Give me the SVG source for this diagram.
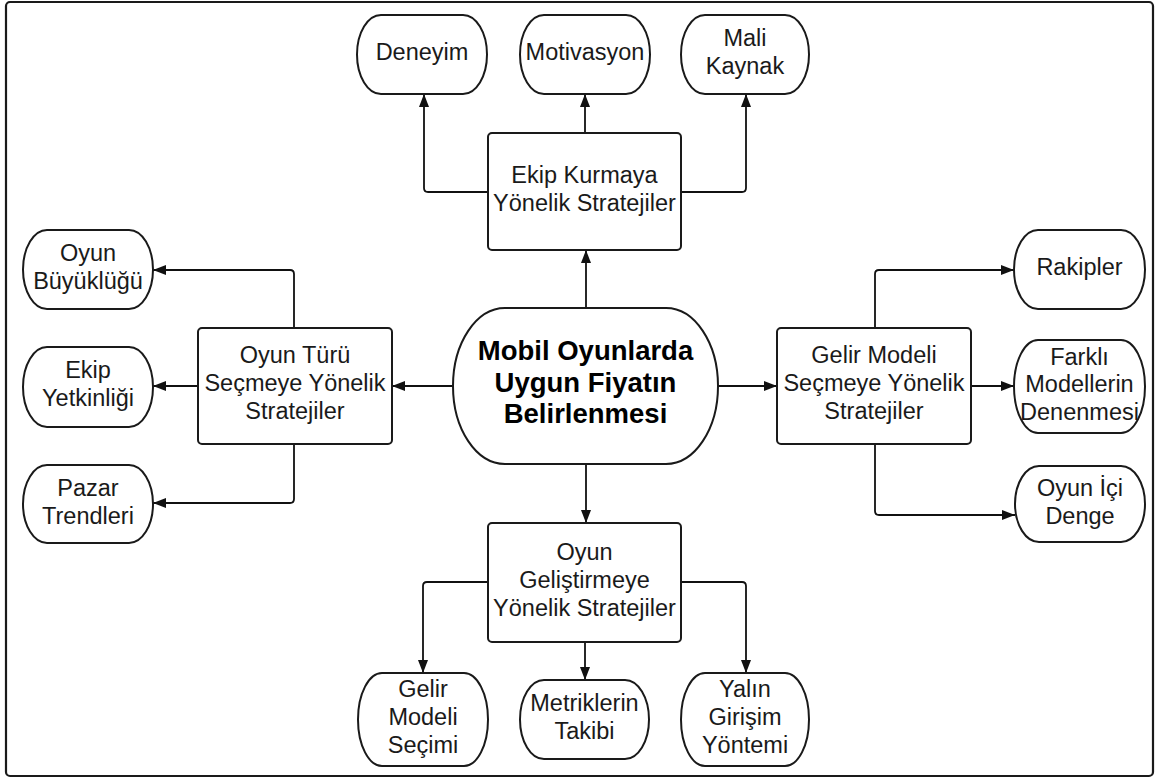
<svg xmlns="http://www.w3.org/2000/svg" width="1159" height="781" viewBox="0 0 1159 781">
<defs>
<style>
.bg{fill:#ffffff}
.frame{fill:none;stroke:#1a1a1a;stroke-width:2.2}
.box{fill:#ffffff;stroke:#1a1a1a;stroke-width:2}
.term{fill:#ffffff;stroke:#1a1a1a;stroke-width:2}
.t{font-family:"Liberation Sans",Arial,sans-serif;font-size:23.5px;fill:#1a1a1a;text-anchor:middle}
.tb{font-family:"Liberation Sans",Arial,sans-serif;font-size:27.5px;font-weight:bold;fill:#000000;text-anchor:middle}
.c{fill:none;stroke:#111111;stroke-width:1.8;stroke-linejoin:round;marker-end:url(#ah)}
</style>
<marker id="ah" viewBox="0 0 13 10" refX="13" refY="5" markerWidth="13" markerHeight="10" markerUnits="userSpaceOnUse" orient="auto">
<path d="M0,0 L13,5 L0,10 Z" fill="#111111"/>
</marker>
</defs>
<rect class="bg" x="0" y="0" width="1159" height="781"/>
<rect class="frame" x="6" y="2" width="1147" height="774" rx="4"/>

<g id="connectors">
<path class="c" d="M586,308 V250"/>
<path class="c" d="M585,133 V94"/>
<path class="c" d="M488,192 H428 Q424,192 424,188 V94"/>
<path class="c" d="M681,192 H742 Q746,192 746,188 V94"/>
<path class="c" d="M453,386 H392"/>
<path class="c" d="M294,328 V274 Q294,270 290,270 H153"/>
<path class="c" d="M198,386 H153"/>
<path class="c" d="M294,444 V499 Q294,503 290,503 H153"/>
<path class="c" d="M718,386 H777"/>
<path class="c" d="M875,328 V274 Q875,270 879,270 H1014"/>
<path class="c" d="M971,386 H1014"/>
<path class="c" d="M875,444 V511 Q875,515 879,515 H1015"/>
<path class="c" d="M586,464 V523"/>
<path class="c" d="M488,582 H427 Q423,582 423,586 V673"/>
<path class="c" d="M585,642 V680"/>
<path class="c" d="M681,582 H742 Q746,582 746,586 V673"/>
</g>

<g id="n-deneyim">
<rect class="term" x="357" y="15" width="130" height="79" rx="24" ry="39.5"/>
<text class="t" x="422" y="60">Deneyim</text>
</g>
<g id="n-motivasyon">
<rect class="term" x="520" y="15" width="130" height="79" rx="24" ry="39.5"/>
<text class="t" x="585" y="60">Motivasyon</text>
</g>
<g id="n-mali">
<rect class="term" x="681" y="15" width="128" height="79" rx="24" ry="39.5"/>
<text class="t" x="745" y="46">Mali</text>
<text class="t" x="745" y="74">Kaynak</text>
</g>
<g id="n-ekip-kurmaya">
<rect class="box" x="488" y="133" width="193" height="117" rx="4"/>
<text class="t" x="584.5" y="183">Ekip Kurmaya</text>
<text class="t" x="584.5" y="211">Yönelik Stratejiler</text>
</g>

<g id="n-oyun-buyuklugu">
<rect class="term" x="23" y="230" width="130" height="79" rx="24" ry="39.5"/>
<text class="t" x="88" y="261">Oyun</text>
<text class="t" x="88" y="289">Büyüklüğü</text>
</g>
<g id="n-ekip-yetkinligi">
<rect class="term" x="23" y="347" width="130" height="80" rx="24" ry="40"/>
<text class="t" x="88" y="378">Ekip</text>
<text class="t" x="88" y="406">Yetkinliği</text>
</g>
<g id="n-pazar">
<rect class="term" x="23" y="465" width="130" height="78" rx="24" ry="39"/>
<text class="t" x="88" y="496">Pazar</text>
<text class="t" x="88" y="524">Trendleri</text>
</g>
<g id="n-oyun-turu">
<rect class="box" x="198" y="328" width="194" height="116" rx="4"/>
<text class="t" x="295" y="363">Oyun Türü</text>
<text class="t" x="295" y="391">Seçmeye Yönelik</text>
<text class="t" x="295" y="419">Stratejiler</text>
</g>

<g id="n-center">
<rect class="term" x="453" y="308" width="265" height="156" rx="52" ry="78"/>
<text class="tb" x="585.5" y="360">Mobil Oyunlarda</text>
<text class="tb" x="585.5" y="391.5">Uygun Fiyatın</text>
<text class="tb" x="585.5" y="423">Belirlenmesi</text>
</g>

<g id="n-gelir-modeli">
<rect class="box" x="777" y="328" width="194" height="116" rx="4"/>
<text class="t" x="874" y="363">Gelir Modeli</text>
<text class="t" x="874" y="391">Seçmeye Yönelik</text>
<text class="t" x="874" y="419">Stratejiler</text>
</g>
<g id="n-rakipler">
<rect class="term" x="1014" y="230" width="131" height="79" rx="24" ry="39.5"/>
<text class="t" x="1079.5" y="275">Rakipler</text>
</g>
<g id="n-farkli">
<rect class="term" x="1014" y="340" width="131" height="93" rx="24" ry="46.5"/>
<text class="t" x="1079.5" y="364.5">Farklı</text>
<text class="t" x="1079.5" y="392">Modellerin</text>
<text class="t" x="1079.5" y="419.5">Denenmesi</text>
</g>
<g id="n-oyun-ici">
<rect class="term" x="1015" y="466" width="130" height="76" rx="24" ry="38"/>
<text class="t" x="1080" y="496">Oyun İçi</text>
<text class="t" x="1080" y="524">Denge</text>
</g>

<g id="n-gelistirme">
<rect class="box" x="488" y="523" width="193" height="119" rx="4"/>
<text class="t" x="584.5" y="560">Oyun</text>
<text class="t" x="584.5" y="588">Geliştirmeye</text>
<text class="t" x="584.5" y="616">Yönelik Stratejiler</text>
</g>
<g id="n-gelir-secimi">
<rect class="term" x="358" y="673" width="130" height="93" rx="24" ry="46.5"/>
<text class="t" x="423" y="697">Gelir</text>
<text class="t" x="423" y="725">Modeli</text>
<text class="t" x="423" y="753">Seçimi</text>
</g>
<g id="n-metrikler">
<rect class="term" x="520" y="680" width="129" height="79" rx="24" ry="39.5"/>
<text class="t" x="584.5" y="711">Metriklerin</text>
<text class="t" x="584.5" y="739">Takibi</text>
</g>
<g id="n-yalin">
<rect class="term" x="681" y="673" width="128" height="93" rx="24" ry="46.5"/>
<text class="t" x="745" y="697">Yalın</text>
<text class="t" x="745" y="725">Girişim</text>
<text class="t" x="745" y="753">Yöntemi</text>
</g>
</svg>
